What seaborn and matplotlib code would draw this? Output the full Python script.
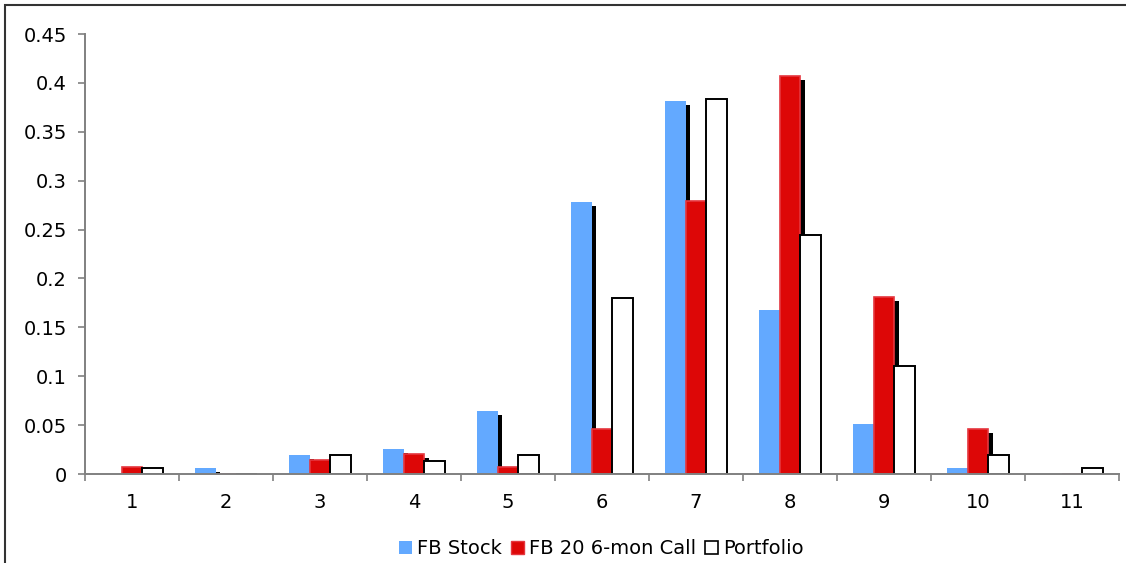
import numpy as np
import pandas as pd
import matplotlib
matplotlib.use("Agg")
import matplotlib.pyplot as plt
import matplotlib.patheffects as pe
from matplotlib.patches import Patch, Rectangle
import seaborn as sns

# Probability distributions over the 11 outcome buckets
categories = ["1", "2", "3", "4", "5", "6", "7", "8", "9", "10", "11"]
series_names = ["FB Stock", "FB 20 6-mon Call", "Portfolio"]
fb_stock = [0.0, 0.006, 0.019, 0.026, 0.064, 0.278, 0.381, 0.168, 0.051, 0.006, 0.0]
fb_call = [0.007, 0.0, 0.014, 0.020, 0.007, 0.046, 0.279, 0.407, 0.181, 0.046, 0.0]
portfolio = [0.006, 0.0, 0.019, 0.013, 0.019, 0.180, 0.384, 0.244, 0.110, 0.019, 0.006]
y_ticks = [0, 0.05, 0.1, 0.15, 0.2, 0.25, 0.3, 0.35, 0.4, 0.45]

df = pd.DataFrame({
    "bucket": categories * 3,
    "series": np.repeat(series_names, len(categories)),
    "value": fb_stock + fb_call + portfolio,
})

sns.set_theme(style="white")
plt.rcParams["font.family"] = ["DejaVu Sans"]
plt.rcParams["text.color"] = "black"
fs = 14

blue = "#63A9FF"
red = "#DD0707"
fig = plt.figure(figsize=(11.26, 5.63), dpi=100)
ax = fig.add_axes([85 / 1126, 1 - 474 / 563, (1119 - 85) / 1126, (474 - 34) / 563])

sns.barplot(data=df, x="bucket", y="value", hue="series", order=categories,
            hue_order=series_names, palette=[blue, red, "white"],
            saturation=1, width=0.67, gap=0, legend=False, ax=ax)

shadow = [pe.SimplePatchShadow(offset=(3.5, -2.9), shadow_rgbFace="black", alpha=1.0),
          pe.Normal()]
for i, cont in enumerate(ax.containers):
    for bar in cont:
        if i == 0:
            bar.set_edgecolor("none")
            bar.set_path_effects(shadow)
        elif i == 1:
            bar.set_edgecolor("#E5363E")
            bar.set_linewidth(1.2)
            bar.set_path_effects(shadow)
        else:
            bar.set_facecolor("white")
            bar.set_edgecolor("black")
            bar.set_linewidth(1.4)

axis_grey = "#808080"
ax.set_ylim(0, 0.45)
ax.set_xlim(-0.5, len(categories) - 0.5)
ax.set_yticks(y_ticks)
ax.set_yticklabels([f"{v:g}" for v in y_ticks])
ax.set_xticks(np.arange(len(categories)))
ax.set_xticklabels(categories)
ax.set_xticks(np.arange(-0.5, len(categories), 1), minor=True)
ax.tick_params(axis="x", which="major", length=0, pad=14, labelsize=fs, labelcolor="black")
ax.tick_params(axis="x", which="minor", length=5, width=1.2, color=axis_grey, direction="out",
               bottom=True)
ax.tick_params(axis="y", length=5, width=1.2, color=axis_grey, direction="out",
               pad=8, labelsize=fs, labelcolor="black", left=True)
ax.set_xlabel("")
ax.set_ylabel("")
for side in ["top", "right"]:
    ax.spines[side].set_visible(False)
for side in ["left", "bottom"]:
    ax.spines[side].set_color(axis_grey)
    ax.spines[side].set_linewidth(1.4)

handles = [
    Patch(facecolor=blue, edgecolor="none", label=series_names[0]),
    Patch(facecolor=red, edgecolor="#E5363E", linewidth=1.0, label=series_names[1]),
    Patch(facecolor="white", edgecolor="black", linewidth=1.2, label=series_names[2]),
]
fig.legend(handles=handles, loc="center", bbox_to_anchor=(601.5 / 1126, 1 - 549 / 563),
           ncol=3, frameon=False, fontsize=fs, handlelength=0.65, handleheight=0.65,
           handletextpad=0.28, columnspacing=0.45, borderpad=0)

# Outer chart frame
fig.patches.append(Rectangle((5 / 1126, -0.2), 2.0, 1.2 - 5 / 563,
                             transform=fig.transFigure, fill=False,
                             edgecolor="#333333", linewidth=1.5))

fig.savefig("out.png", dpi=100)
